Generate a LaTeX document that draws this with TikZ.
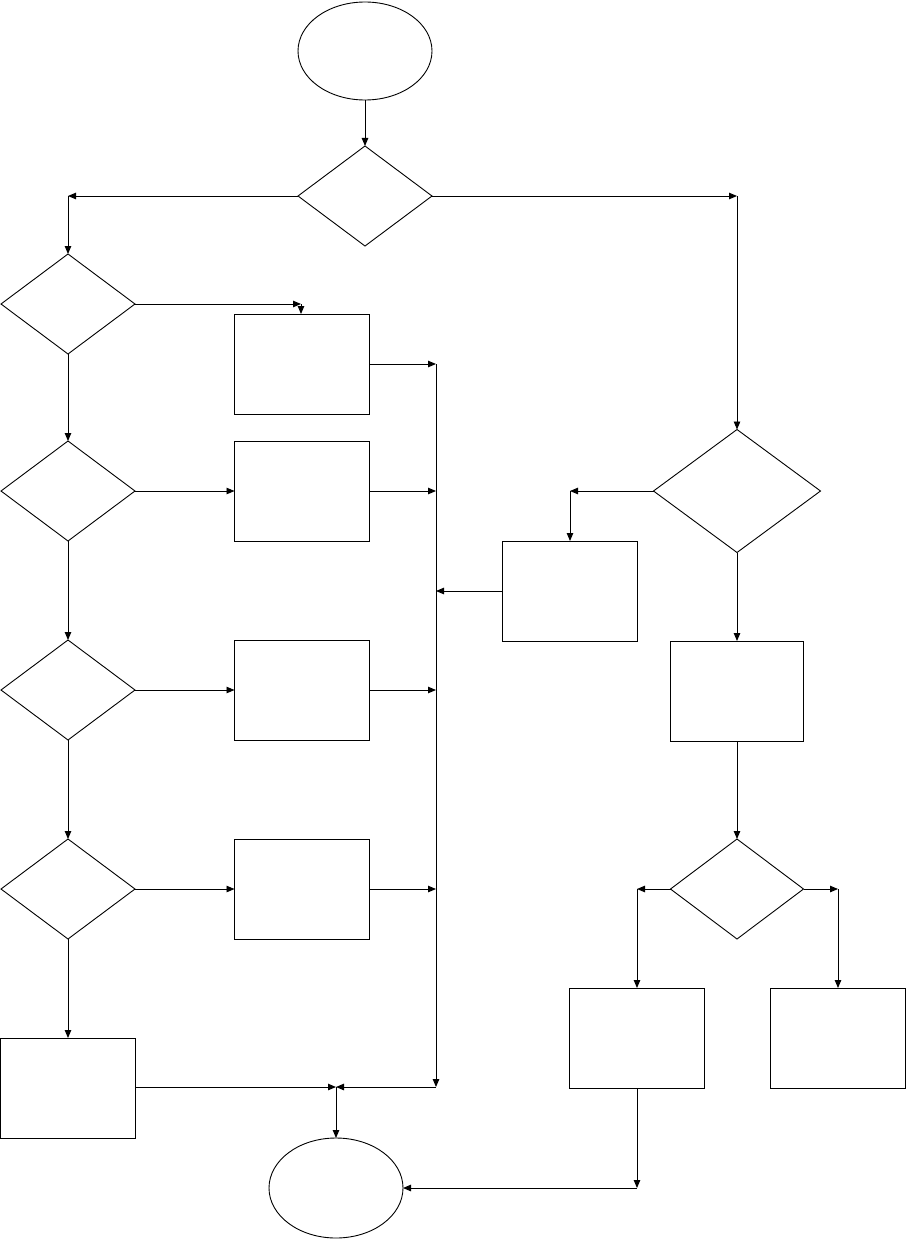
\documentclass[tikz,border=0pt]{standalone}
\usepackage{tikz}
\usetikzlibrary{arrows.meta,shapes.geometric}

\begin{document}
\begin{tikzpicture}[x=1pt,y=-1pt,>={Triangle[length=8pt,width=6.5pt]},line width=0.9pt,
    terminal/.style={draw,ellipse,minimum width=134pt,minimum height=98pt,inner sep=0pt,outer sep=0pt},
    decision/.style={draw,diamond,minimum width=134pt,minimum height=100pt,inner sep=0pt,outer sep=0pt},
    process/.style={draw,rectangle,minimum width=135pt,minimum height=100pt,inner sep=0pt,outer sep=0pt}]
    \useasboundingbox (0,0) rectangle (906,1239);
    \node[terminal] (start) at (365,51) {};
    \node[decision] (dtop) at (365,196) {};
    \draw[->] (start)--(dtop);

    % left column
    \node[decision] (da) at (68,304) {};
    \node[decision] (db) at (68,491) {};
    \node[decision] (dc) at (68,690) {};
    \node[decision] (dd) at (68,889) {};
    \node[process] (pa) at (302,364) {};
    \node[process] (pb) at (302,491) {};
    \node[process] (pc) at (302,690) {};
    \node[process] (pd) at (302,889) {};
    \node[process] (pe) at (68,1088) {};
    \node[terminal,minimum height=100pt] (stop) at (336,1188) {};

    \coordinate (tl) at (68,196);
    \coordinate (ka) at (301,304);
    \draw[->] (dtop.west)--(tl);
    \draw[->] (tl)--(da.north);
    \draw[->] (da.east)--(ka);
    \draw[->] (ka)--(pa.north -| ka);
    \draw[->] (da)--(db);
    \draw[->] (db)--(dc);
    \draw[->] (dc)--(dd);
    \draw[->] (dd)--(pe);
    \draw[->] (db)--(pb);
    \draw[->] (dc)--(pc);
    \draw[->] (dd)--(pd);

    % collecting line
    \coordinate (bustop) at (436,364);
    \coordinate (busbot) at (436,1087);
    \coordinate (merge) at (336,1087);
    \draw[->] (pa.east)--(bustop);
    \draw[->] (pb.east)--(pb.east -| bustop);
    \draw[->] (pc.east)--(pc.east -| bustop);
    \draw[->] (pd.east)--(pd.east -| bustop);
    \draw[->] (bustop)--(busbot);
    \draw[->] (busbot)--(merge);
    \draw[->] (pe.east |- merge)--(merge);
    \draw[->] (merge)--(stop.north);

    % right column
    \node[decision,minimum width=167pt,minimum height=123pt] (de) at (737,491) {};
    \node[process] (pf) at (570,591) {};
    \node[process,minimum width=133pt] (pg) at (737,691) {};
    \node[decision,minimum width=133pt] (df) at (737,889) {};
    \node[process] (ph) at (637,1038) {};
    \node[process] (pi) at (838,1038) {};

    \coordinate (tr) at (737,196);
    \coordinate (ke) at (570,491);
    \coordinate (kl) at (637,889);
    \coordinate (kr) at (838,889);
    \coordinate (kb) at (637,1188);
    \draw[->] (dtop.east)--(tr);
    \draw[->] (tr)--(de.north);
    \draw[->] (de.west)--(ke);
    \draw[->] (ke)--(pf.north);
    \draw[->] (pf.west)--(pf.west -| bustop);
    \draw[->] (de)--(pg);
    \draw[->] (pg)--(df);
    \draw[->] (df.west)--(kl);
    \draw[->] (kl)--(ph.north);
    \draw[->] (df.east)--(kr);
    \draw[->] (kr)--(pi.north);
    \draw[->] (ph.south)--(kb);
    \draw[->] (kb)--(stop.east);
\end{tikzpicture}
\end{document}
